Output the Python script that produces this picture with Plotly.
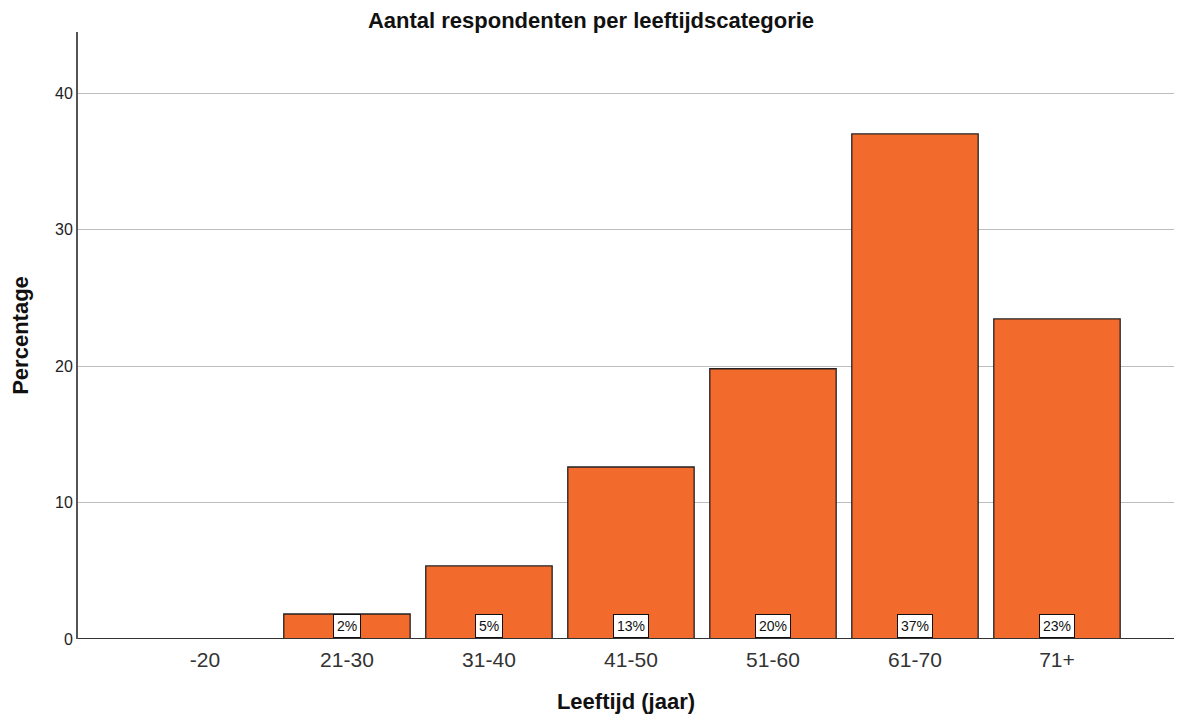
import plotly.graph_objects as go

categories = ["-20", "21-30", "31-40", "41-50", "51-60", "61-70", "71+"]
percentages = [0, 1.83, 5.35, 12.6, 19.8, 37.0, 23.45]
labels = ["", "2%", "5%", "13%", "20%", "37%", "23%"]
y_ticks = [0, 10, 20, 30, 40]

FONT = "Liberation Sans, Arial, sans-serif"
W, H = 1166, 706  # page body adds an 8px margin

fig = go.Figure()
fig.add_trace(go.Bar(
    x=list(range(len(categories))), y=percentages,
    marker=dict(color="#F26A2C", line=dict(color="#222222", width=1.3)),
    width=0.89, hoverinfo="skip",
))

for i, lab in enumerate(labels):
    if lab:
        fig.add_annotation(
            x=i, y=0, xref="x", yref="y", text=lab, showarrow=False,
            yanchor="bottom", yshift=1, bgcolor="white", bordercolor="#111111",
            borderwidth=1, borderpad=3, font=dict(family=FONT, size=14, color="#111111"),
        )

fig.update_layout(
    width=W, height=H,
    margin=dict(l=70, r=0, t=24, b=75),
    paper_bgcolor="white", plot_bgcolor="white",
    showlegend=False,
    title=dict(text="<b>Aantal respondenten per leeftijdscategorie</b>", x=0.5, xanchor="center",
               y=1 - 12 / H, yanchor="middle", font=dict(family=FONT, size=22, color="#111111")),
    font=dict(family=FONT),
)
fig.update_xaxes(
    range=[-0.894, 6.824], tickmode="array", tickvals=list(range(len(categories))), ticktext=categories,
    showgrid=False, zeroline=False, showline=False, ticks="",
    tickfont=dict(size=21, color="#333333"), ticklabelstandoff=6,
    title=dict(text="<b>Leeftijd (jaar)</b>", font=dict(size=22, color="#111111"), standoff=26),
)
fig.update_yaxes(
    range=[0, 44.47], tickmode="array", tickvals=y_ticks,
    showgrid=True, gridcolor="#BDBDBD", gridwidth=1, zeroline=False,
    showline=True, linecolor="#555555", linewidth=2, ticks="",
    tickfont=dict(size=16, color="#222222"),
    title=dict(text="<b>Percentage</b>", font=dict(size=22, color="#111111"), standoff=22),
)
fig.add_shape(type="line", xref="paper", yref="y", x0=0, x1=1, y0=0, y1=0,
              line=dict(color="#333333", width=2))

fig.write_html("out.html")
